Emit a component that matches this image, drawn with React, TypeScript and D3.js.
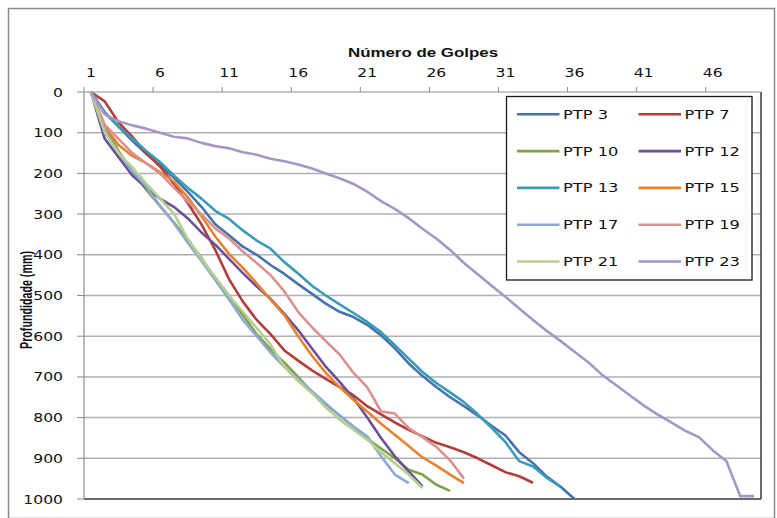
import * as d3 from "d3";

// tick labels
const xTickLabels = [1, 6, 11, 16, 21, 26, 31, 36, 41, 46];
const yTickLabels = [0, 100, 200, 300, 400, 500, 600, 700, 800, 900, 1000];

// depth (mm) per golpe, starting at golpe 1
const ptp3 = [0, 50, 85, 120, 152, 180, 210, 245, 282, 325, 352, 380, 400, 425, 447, 472, 496, 520, 540, 553, 572, 598, 630, 667, 698, 725, 750, 772, 795, 820, 844, 885, 912, 945, 970, 1000];
const ptp7 = [0, 23, 75, 110, 150, 183, 225, 272, 325, 388, 460, 515, 560, 595, 635, 660, 684, 705, 725, 745, 772, 792, 812, 830, 846, 862, 873, 885, 900, 917, 934, 944, 960];
const ptp10 = [0, 85, 145, 195, 240, 280, 320, 362, 408, 458, 500, 548, 595, 632, 665, 700, 738, 768, 795, 822, 852, 876, 900, 928, 940, 965, 980];
const ptp12 = [0, 115, 160, 205, 235, 262, 282, 310, 345, 375, 410, 445, 478, 508, 545, 585, 630, 675, 712, 752, 800, 850, 895, 932, 969];
const ptp13 = [0, 50, 85, 115, 145, 172, 205, 235, 262, 292, 312, 340, 365, 385, 418, 446, 476, 500, 522, 543, 565, 590, 622, 655, 688, 715, 738, 762, 792, 825, 860, 907, 920, 948, 970];
const ptp15 = [0, 85, 130, 157, 175, 197, 220, 258, 305, 355, 398, 432, 470, 510, 548, 600, 648, 690, 725, 756, 785, 815, 842, 870, 898, 918, 940, 961];
const ptp17 = [0, 95, 150, 195, 232, 280, 322, 370, 415, 462, 510, 560, 600, 640, 675, 705, 735, 765, 795, 822, 846, 895, 940, 961];
const ptp19 = [0, 80, 115, 150, 175, 200, 235, 268, 300, 335, 360, 392, 420, 450, 490, 540, 578, 612, 645, 690, 725, 785, 790, 826, 848, 872, 905, 950];
const ptp21 = [0, 100, 150, 185, 225, 262, 298, 360, 410, 455, 500, 540, 580, 620, 675, 710, 740, 775, 805, 830, 854, 885, 912, 940, 973];
const ptp23 = [0, 55, 72, 82, 90, 100, 110, 114, 125, 133, 138, 148, 154, 164, 170, 178, 188, 200, 212, 226, 245, 268, 287, 310, 336, 360, 388, 420, 448, 476, 503, 532, 560, 587, 612, 638, 664, 695, 720, 745, 770, 792, 812, 832, 848, 880, 907, 993, 993];

const seriesNames = ["PTP 3", "PTP 7", "PTP 10", "PTP 12", "PTP 13", "PTP 15", "PTP 17", "PTP 19", "PTP 21", "PTP 23"];
const seriesValues = [ptp3, ptp7, ptp10, ptp12, ptp13, ptp15, ptp17, ptp19, ptp21, ptp23];
const colors = ["#4573ad", "#b03f3b", "#7fa447", "#6c5096", "#3a9bb6", "#e9822f", "#8da8d6", "#d99290", "#b4cf90", "#a596c4"];

const W = 777;
const H = 518;
const nCats = 49;

export default function App() {
	const plot = { left: 84, top: 92, right: 761, bottom: 499 };

	const x = d3.scaleLinear().domain([0.5, nCats + 0.5]).range([plot.left, plot.right]);
	const y = d3.scaleLinear().domain([0, 1000]).range([plot.top, plot.bottom]);

	const line = d3
		.line<number>()
		.x((_, i) => x(i + 1))
		.y((d) => y(d));

	const tickFont = "'DejaVu Sans', Verdana, sans-serif";
	const sx = 1.27;

	// legend layout
	const lg = { x: 506.5, y: 96.5, w: 245.5, h: 183.5 };
	const rowGap = 36.8;
	const colX = [517, 638.5];

	return (
		<svg
			width={W}
			height={H}
			style={{ position: "absolute", left: 0, top: 0, background: "#fff" }}
		>
			<rect x={8.5} y={8.5} width={766} height={510} fill="#fff" stroke="#8a8a8a" strokeWidth={1.5} />

			{/* gridlines */}
			{yTickLabels.slice(1, -1).map((t) => (
				<line key={"g" + t} x1={plot.left} x2={plot.right} y1={y(t)} y2={y(t)} stroke="#b0b0b0" strokeWidth={1.5} />
			))}

			{/* plot area border (right / bottom) */}
			<line x1={plot.right} x2={plot.right} y1={plot.top} y2={plot.bottom} stroke="#3a3a3a" strokeWidth={1.5} />
			<line x1={plot.left} x2={plot.right} y1={plot.bottom} y2={plot.bottom} stroke="#3a3a3a" strokeWidth={1.5} />

			{/* axes */}
			<line x1={plot.left} x2={plot.right} y1={plot.top} y2={plot.top} stroke="#8c8c8c" strokeWidth={1.2} />
			<line x1={plot.left} x2={plot.left} y1={plot.top} y2={plot.bottom} stroke="#8c8c8c" strokeWidth={1.2} />

			{xTickLabels.map((t) => (
				<g key={"xt" + t}>
					<line x1={x(t - 0.5)} x2={x(t - 0.5)} y1={plot.top - 5} y2={plot.top} stroke="#8c8c8c" />
					<text
						transform={`translate(${x(t)},77) scale(${sx},1)`}
						textAnchor="middle"
						fontFamily={tickFont}
						fontSize={12.3}
						fill="#111"
					>
						{t}
					</text>
				</g>
			))}

			{yTickLabels.map((t) => (
				<g key={"yt" + t}>
					<line x1={plot.left - 7} x2={plot.left} y1={y(t)} y2={y(t)} stroke="#8c8c8c" />
					<text
						transform={`translate(63,${y(t) + 4.5}) scale(${sx},1)`}
						textAnchor="end"
						fontFamily={tickFont}
						fontSize={12.3}
						fill="#111"
					>
						{t}
					</text>
				</g>
			))}

			{/* series */}
			{seriesValues.map((vals, i) => (
				<path
					key={seriesNames[i]}
					d={line(vals) || ""}
					fill="none"
					stroke={colors[i]}
					strokeWidth={2.6}
					strokeLinejoin="round"
				/>
			))}

			{/* titles */}
			<text
				transform={`translate(423,57) scale(1.3,1)`}
				textAnchor="middle"
				fontFamily="'Liberation Sans', Arial, sans-serif"
				fontWeight="bold"
				fontSize={13}
				fill="#111"
			>
				Número de Golpes
			</text>
			<g transform="translate(32,300) rotate(-90)">
				<text
					transform="scale(1,1.3)"
					textAnchor="middle"
					fontFamily="'Liberation Sans', Arial, sans-serif"
					fontWeight="bold"
					fontSize={13}
					textLength={98}
					lengthAdjust="spacingAndGlyphs"
					fill="#111"
				>
					Profundidade (mm)
				</text>
			</g>

			{/* legend */}
			<rect x={lg.x} y={lg.y} width={lg.w} height={lg.h} fill="#fff" stroke="#1a1a1a" strokeWidth={1.3} />
			{seriesNames.map((name, i) => {
				const col = i % 2;
				const row = Math.floor(i / 2);
				const ly = 114.3 + row * rowGap;
				const lx = colX[col];
				return (
					<g key={"lg" + name}>
						<line x1={lx} x2={lx + 42.5} y1={ly} y2={ly} stroke={colors[i]} strokeWidth={2.6} />
						<text
							transform={`translate(${lx + 46},${ly + 4.5}) scale(1.3,1)`}
							fontFamily={tickFont}
							fontSize={12.5}
							fill="#111"
						>
							{name}
						</text>
					</g>
				);
			})}
		</svg>
	);
}
